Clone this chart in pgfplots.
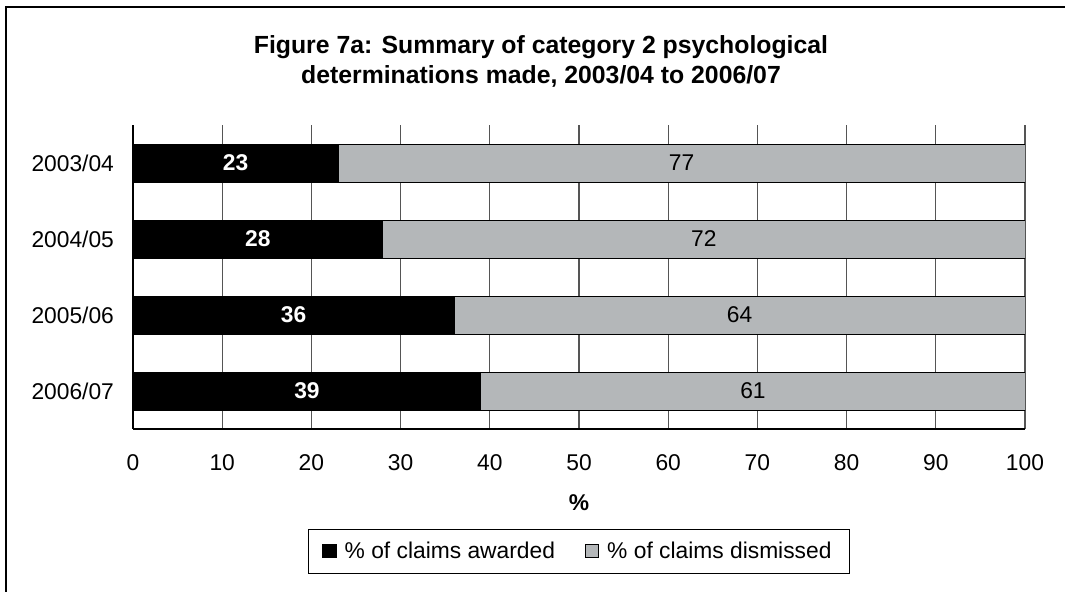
\documentclass[border=0pt]{standalone}
\usepackage{fontspec}
\setmainfont{Liberation Sans}
\usepackage{pgfplots}
\pgfplotsset{compat=1.18}
\definecolor{bargray}{RGB}{180,183,185}
\definecolor{gridgray}{RGB}{85,85,85}

\begin{document}
\begin{tikzpicture}[x=1pt,y=1pt]
% page = 1065x591 px at 0.5pt per px, axis origin at px (133,429)
\useasboundingbox (-66.5,-81) rectangle (466,214.5);
\draw[line width=0.7pt] (-63.5,-95) -- (-63.5,211) -- (480,211);
\node[font=\bfseries\fontsize{12.4}{15}\selectfont, align=center] at (204,184)
  {Figure 7a: Summary of category 2 psychological\\determinations made, 2003/04 to 2006/07};
\begin{axis}[
    at={(0,0)}, anchor=south west,
    scale only axis, width=446pt, height=152pt,
    xbar stacked, bar width=19pt,
    xmin=0, xmax=100, ymin=-0.5, ymax=3.5,
    y dir=reverse,
    ytick={0,1,2,3},
    yticklabels={2003/04,2004/05,2005/06,2006/07},
    xtick={0,10,...,100},
    axis x line*=bottom, axis y line*=left,
    axis line style={black, line width=0.6pt},
    major tick length=0pt,
    xmajorgrids, grid style={gridgray, line width=0.6pt},
    tick label style={font=\fontsize{11.4}{13}\selectfont},
    /pgf/number format/assume math mode=true,
    xticklabel style={yshift=-9pt},
    yticklabel style={xshift=-6pt},
    xlabel={\textbf{\%}},
    xlabel style={at={(axis description cs:0.5,-0.243)}, anchor=center, font=\fontsize{11.4}{13}\selectfont},
    legend style={at={(axis description cs:0.5,-0.329)}, anchor=north,
      legend columns=2, draw=black, line width=0.6pt,
      inner xsep=7pt, inner ysep=4pt,
      font=\fontsize{11.4}{13}\selectfont,
      /tikz/every odd column/.append style={column sep=2pt},
      /tikz/every even column/.append style={column sep=13pt}},
    legend image code/.code={\draw[#1, line width=0.5pt] (0pt,-3.3pt) rectangle (6.6pt,3.3pt);},
    nodes near coords,
    nodes near coords align={center},
]
\addplot[fill=black, draw=black, line width=0.5pt,
  every node near coord/.append style={white, font=\bfseries\fontsize{11.4}{13}\selectfont}]
  coordinates {(23,0) (28,1) (36,2) (39,3)};
\addlegendentry{\% of claims awarded}
\addplot[fill=bargray, draw=black, line width=0.5pt,
  every node near coord/.append style={black, font=\fontsize{11.4}{13}\selectfont}]
  coordinates {(77,0) (72,1) (64,2) (61,3)};
\addlegendentry{\% of claims dismissed}
\end{axis}
\end{tikzpicture}
\end{document}
